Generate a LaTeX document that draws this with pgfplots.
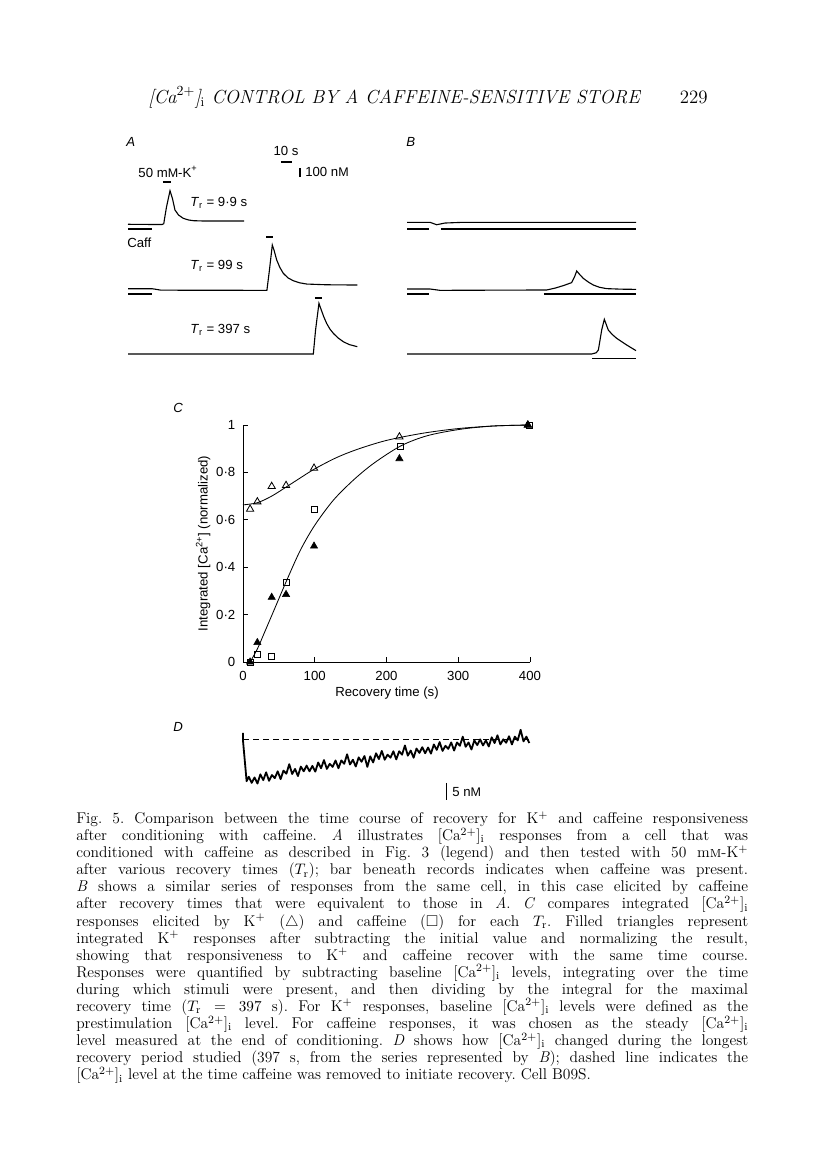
\documentclass[border=0pt]{standalone}
\usepackage{amssymb}
\usepackage{fontspec}
\usepackage{pgfplots}
\pgfplotsset{compat=1.18}
\newfontfamily\figfont{Liberation Sans}
\newcommand{\ff}{\figfont\fontsize{9.5}{11}\selectfont}

\pgfplotsset{
  trace/.style={black, line width=0.8pt, mark=none},
  stim/.style={black, line width=0.9pt, mark=none},
  panel/.style={hide axis, scale only axis, clip=false, anchor=south west},
}

\begin{document}
\begin{tikzpicture}
\begin{scope}[x=0.72pt,y=-0.72pt]
\fill[white] (0,0) rectangle (816,1176);
\path[use as bounding box] (0,0) rectangle (816,1176);

% running head
\node[anchor=base west, inner sep=0pt] at (148,103)
  {\fontsize{13.6}{15}\selectfont\itshape [Ca$^{2+}$]$_{\mathrm{i}}$ CONTROL BY A CAFFEINE-SENSITIVE STORE};
\node[anchor=base east, inner sep=0pt] at (708,103) {\fontsize{13.6}{15}\selectfont 229};

% panel A/B labels
\node[anchor=west, inner sep=0pt, font=\ff\itshape] at (126,142) {A};
\node[anchor=west, inner sep=0pt, font=\ff\itshape] at (406,142) {B};
\node[inner sep=0pt, font=\ff] at (286,151) {10 s};
\node[inner sep=0pt, font=\ff] at (168,172) {50 m{\small M}-K\textsuperscript{+}};
\node[anchor=west, inner sep=0pt, font=\ff] at (305,172) {100 n{\small M}};
\node[anchor=west, inner sep=0pt, font=\ff] at (190,203) {\textit{T}\textsubscript{r} = 9·9 s};
\node[anchor=west, inner sep=0pt, font=\ff] at (127,243) {Caff};
\node[anchor=west, inner sep=0pt, font=\ff] at (190,266) {\textit{T}\textsubscript{r} = 99 s};
\node[anchor=west, inner sep=0pt, font=\ff] at (190,330) {\textit{T}\textsubscript{r} = 397 s};

% panel C and D labels
\node[anchor=west, inner sep=0pt, font=\ff\itshape] at (173,408) {C};
\node[anchor=west, inner sep=0pt, font=\ff\itshape] at (173,727) {D};
\node[anchor=west, inner sep=0pt, font=\ff] at (452,792) {5 n{\small M}};

% caption
\node[anchor=north west, inner sep=0pt, text width=483.8pt, align=justify,
      font=\fontsize{11.2}{12.3}\selectfont\frenchspacing] at (76,811) {%
Fig. 5. Comparison between the time course of recovery for K$^+$ and caffeine responsiveness\linebreak
after conditioning with caffeine. \textit{A} illustrates [Ca$^{2+}$]$_{\mathrm{i}}$ responses from a cell that was\linebreak
conditioned with caffeine as described in Fig. 3 (legend) and then tested with 50 m\textsc{m}-K$^+$\linebreak
after various recovery times ($T_{\mathrm{r}}$); bar beneath records indicates when caffeine was present.\linebreak
\textit{B} shows a similar series of responses from the same cell, in this case elicited by caffeine\linebreak
after recovery times that were equivalent to those in \textit{A}. \textit{C} compares integrated [Ca$^{2+}$]$_{\mathrm{i}}$\linebreak
responses elicited by K$^+$ ($\triangle$) and caffeine ($\square$) for each $T_{\mathrm{r}}$. Filled triangles represent\linebreak
integrated K$^+$ responses after subtracting the initial value and normalizing the result,\linebreak
showing that responsiveness to K$^+$ and caffeine recover with the same time course.\linebreak
Responses were quantified by subtracting baseline [Ca$^{2+}$]$_{\mathrm{i}}$ levels, integrating over the time\linebreak
during which stimuli were present, and then dividing by the integral for the maximal\linebreak
recovery time ($T_{\mathrm{r}} = 397$ s). For K$^+$ responses, baseline [Ca$^{2+}$]$_{\mathrm{i}}$ levels were defined as the\linebreak
prestimulation [Ca$^{2+}$]$_{\mathrm{i}}$ level. For caffeine responses, it was chosen as the steady [Ca$^{2+}$]$_{\mathrm{i}}$\linebreak
level measured at the end of conditioning. \textit{D} shows how [Ca$^{2+}$]$_{\mathrm{i}}$ changed during the longest\linebreak
recovery period studied (397 s, from the series represented by \textit{B}); dashed line indicates the\linebreak
{[}Ca$^{2+}$]$_{\mathrm{i}}$ level at the time caffeine was removed to initiate recovery. Cell B09S.};
\end{scope}

% ---- A: K+ responses (time in s, [Ca2+]i in nM, traces offset)
\begin{axis}[panel, width=164.88pt, height=162pt, at={(92.16pt,-259.2pt)},
  xmin=0, xmax=208.2, ymin=0, ymax=2500]
\addplot[trace] coordinates {(0,1508) (31,1505) (32.5,1515) (35,1700) (38.2,1881) (40.5,1790)
  (42.7,1667) (46,1610) (50.3,1574) (55,1556) (59.4,1548) (70,1544) (105.5,1544)};
\addplot[trace] coordinates {(0,792) (22,792) (30,776) (126.3,774) (128.5,990) (131.2,1278)
  (133,1210) (135.2,1111) (138,1030) (141.2,963) (145.5,912) (150.3,881) (156,858)
  (162.4,844) (180,836) (208.5,833)};
\addplot[trace] coordinates {(0,67) (168.5,67) (170.5,330) (173.6,630) (175.2,574) (178,480)
  (180.6,407) (183.5,345) (186.7,296) (191,245) (195.7,204) (201,172) (208.5,148)};
% caffeine bars
\addplot[stim] coordinates {(0,1456) (21.8,1456)};
\addplot[stim] coordinates {(0,733) (21.8,733)};
% K+ bars
\addplot[stim] coordinates {(31.8,1978) (39.1,1978)};
\addplot[stim] coordinates {(125.5,1367) (131.8,1367)};
\addplot[stim] coordinates {(170,689) (176.4,689)};
% scale bars: 10 s, 100 nM
\addplot[stim] coordinates {(139.1,2200) (149.1,2200)};
\addplot[stim] coordinates {(156.4,2033) (156.4,2133)};
\end{axis}

% ---- B: caffeine responses
\begin{axis}[panel, width=164.88pt, height=162pt, at={(293.04pt,-259.2pt)},
  xmin=0, xmax=208.2, ymin=0, ymax=2500]
\addplot[trace] coordinates {(0,1530) (20.9,1530) (27,1503) (34.5,1522) (51.2,1530) (208.2,1530)};
\addplot[trace] coordinates {(0,789) (20.9,789) (30,774) (127,778) (135,800) (143,830) (149.7,860)
  (152.5,930) (154.3,989) (157,950) (160.3,907) (165,865) (169.4,833) (175,808) (181.5,793)
  (195,787) (208.2,785)};
\addplot[trace] coordinates {(0,67) (167.9,67) (172,80) (174,111) (177,333) (179.4,452) (181,400)
  (183,333) (186.5,285) (190.6,241) (199.7,167) (208.2,104)};
\addplot[stim] coordinates {(0,1456) (20.3,1456)};
\addplot[stim] coordinates {(30.9,1456) (208.2,1456)};
\addplot[stim] coordinates {(0,733) (20.3,733)};
\addplot[stim] coordinates {(124.5,733) (208.2,733)};
\addplot[stim] coordinates {(168.5,15) (208.2,15)};
\end{axis}

% ---- C: integrated responses vs recovery time
\begin{axis}[scale only axis, width=206.64pt, height=170.64pt, at={(174.96pt,-476.64pt)},
  anchor=south west, clip=false,
  xmin=0, xmax=400, ymin=0, ymax=1,
  axis x line*=bottom, axis y line*=left, axis line style={-, line width=0.6pt},
  tick align=inside, major tick length=3.6pt, tick style={line width=0.6pt, black},
  xtick={0,100,200,300,400}, ytick={0,0.2,0.4,0.6,0.8,1},
  xticklabels={0,100,200,300,400}, yticklabels={0,0·2,0·4,0·6,0·8,1},
  ticklabel style={font=\ff},
  xticklabel style={yshift=-3pt}, yticklabel style={xshift=-2pt},
  xlabel={Recovery time (s)}, ylabel={Integrated [Ca\textsuperscript{2+}] (normalized)},
  label style={font=\ff},
  xlabel style={at={(axis description cs:0.502,-0.131)}, anchor=center},
  ylabel style={at={(axis description cs:-0.139,0.5)}, anchor=center},
]
\addplot[black, line width=0.6pt, smooth, mark=none] coordinates {(0,0.663) (20,0.672) (40,0.700)
  (60,0.738) (80,0.777) (100,0.815) (130,0.862) (160,0.898) (200,0.935) (250,0.965)
  (300,0.985) (350,0.996) (400,1.0)};
\addplot[black, line width=0.6pt, smooth, mark=none] coordinates {(9.9,0) (20,0.055) (30,0.125)
  (42,0.21) (61,0.345) (80,0.472) (100,0.577) (126,0.683) (154,0.768) (182,0.838)
  (220,0.912) (257,0.955) (303,0.982) (350,0.996) (400,1.0)};
\addplot[only marks, mark=triangle, mark size=3pt, mark options={black, line width=0.6pt}]
  coordinates {(9.9,0.645) (20,0.676) (40,0.741) (60,0.745) (99,0.818) (218,0.95) (397,1.0)};
\addplot[only marks, mark=square, mark size=2.2pt, mark options={black, line width=0.6pt}]
  coordinates {(9.9,0.0) (20,0.032) (40,0.024) (60,0.337) (99,0.645) (220,0.908) (399,1.0)};
\addplot[only marks, mark=triangle*, mark size=3pt, mark options={black, fill=black}]
  coordinates {(9.9,0.0) (20,0.082) (40,0.273) (60,0.285) (99,0.489) (218,0.858) (397,1.0)};
\end{axis}

% ---- D: [Ca2+]i during the 397 s recovery (nM relative to dashed level)
\begin{axis}[panel, width=206.64pt, height=53.86pt, at={(174.96pt,-581.04pt)},
  xmin=0, xmax=397, ymin=-20, ymax=2]
\addplot[black, line width=0.6pt, dash pattern=on 4.3pt off 2.9pt] coordinates {(0,0) (397,0)};
\addplot[black, line width=1.3pt, line join=round] coordinates {(0,1.8) (0,-0.5) (5,-12.4)
 (8,-11.1) (12,-12.9) (16,-11.3) (20,-13.1) (24,-10.4) (28,-12.1) (32,-9.8) (36,-12.3)
 (40,-10.6) (44,-11.5) (48,-9.5) (52,-11.8) (56,-9.3) (60,-10.2) (64,-7.4) (68,-10.3)
 (72,-8.8) (76,-10.9) (80,-8.1) (84,-9.5) (88,-7.8) (92,-9.5) (96,-7.9) (100,-9.6)
 (104,-6.9) (108,-8.6) (112,-6.2) (116,-8.8) (120,-7.3) (124,-8.2) (128,-6.3) (132,-8.6)
 (136,-6.3) (140,-7.3) (144,-4.5) (148,-7.5) (152,-6.1) (156,-8.1) (160,-5.4) (164,-6.7)
 (168,-5.0) (172,-8.2) (176,-5.1) (180,-6.9) (184,-4.2) (188,-5.9) (192,-3.5) (196,-6.1)
 (200,-4.6) (204,-5.5) (208,-3.6) (212,-6.0) (216,-3.6) (220,-4.6) (224,-1.9) (228,-4.9)
 (232,-3.4) (236,-5.5) (240,-2.8) (244,-4.1) (248,-2.4) (252,-4.2) (256,-2.5) (260,-4.3)
 (264,-1.6) (268,-3.2) (272,-0.9) (276,-3.5) (280,-2.0) (284,-2.9) (288,-1.0) (292,-3.4)
 (296,-1.0) (300,-2.0) (304,0.7) (308,-2.3) (312,-1.0) (316,-3.1) (320,-0.4) (324,-1.8)
 (328,-0.1) (332,-1.9) (336,-0.4) (340,-2.2) (344,0.5) (348,-1.2) (352,1.1) (356,-1.6)
 (360,-0.1) (364,-1.1) (368,0.8) (372,-1.6) (376,0.7) (380,-0.4) (384,2.7) (388,-0.7)
 (392,0.7) (396,-1.2)};
% 5 nM scale bar
\addplot[stim] coordinates {(282,-12.9) (282,-17.9)};
\end{axis}
\end{tikzpicture}
\end{document}
